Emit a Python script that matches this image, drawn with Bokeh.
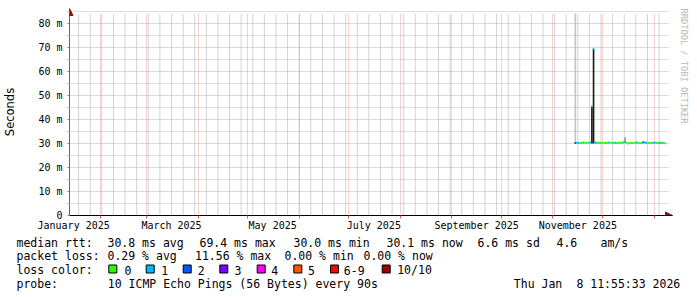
import pandas as pd
from bokeh.plotting import figure
from bokeh.models import Range1d, FixedTicker, Arrow, NormalHead, Title, Plot, Grid
from bokeh.layouts import column
from bokeh.embed import file_html
from bokeh.resources import INLINE
from bokeh.core.properties import value

# ---------------- data ----------------
graph_end = "2026-01-08 11:55:33"
graph_span_days = 360
y_top = 84.17

data_start = "2025-11-14"   # first daily sample
median_rtt = [30.2, 30.3, 30.2, 30.3, 30.2, 30.4, 30.3, 30.2, 30.3, 30.4,
              45.5, 69.4, 30.4, 30.3, 30.2, 30.3, 30.2, 30.3, 30.2, 30.3,
              30.4, 30.2, 30.3, 30.2, 30.3, 30.2, 30.3, 30.2, 30.3, 30.4,
              30.6, 30.3, 30.0, 30.2, 30.3, 30.2, 30.3, 30.4, 30.2, 30.3,
              30.2, 30.5, 30.4, 30.3, 30.2, 30.3, 30.2, 30.3, 30.4, 30.2,
              30.3, 30.2, 30.3, 30.2, 30.1]
loss_count = [2, 1, 1, 0, 0, 1, 0, 0, 0, 1,
              0, 1, 1, 1, 0, 0, 0, 0, 0, 0,
              1, 0, 0, 0, 1, 0, 0, 0, 0, 1,
              1, 0, 0, 0, 0, 0, 0, 1, 0, 0,
              0, 2, 1, 1, 0, 0, 0, 1, 1, 0,
              0, 1, 1, 0, 0]

smoke_light_day = ["2025-11-14"]
smoke_light_lo = [30.0]
smoke_light_hi = [120.0]
smoke_mid_day = ["2025-12-14"]
smoke_mid_lo = [30.2]
smoke_mid_hi = [32.6]
smoke_dark_day = ["2025-11-24", "2025-11-25"]
smoke_dark_lo = [30.0, 30.0]
smoke_dark_hi = [45.5, 69.4]

x_label_months = ["2025-01-01", "2025-03-01", "2025-05-01", "2025-07-01", "2025-09-01", "2025-11-01"]
x_tick_labels = ["January 2025", "March 2025", "May 2025", "July 2025", "September 2025", "November 2025"]
y_ticks = [0, 10, 20, 30, 40, 50, 60, 70, 80]
y_tick_labels = ["0", "10 m", "20 m", "30 m", "40 m", "50 m", "60 m", "70 m", "80 m"]

loss_bins = ["0", "1", "2", "3", "4", "5", "6-9", "10/10"]

rtt_avg, rtt_max, rtt_min, rtt_now, rtt_sd, rtt_ams = 30.8, 69.4, 30.0, 30.1, 6.6, 4.6
loss_avg, loss_max, loss_min, loss_now = 0.29, 11.56, 0.00, 0.00
probe_text = "10 ICMP Echo Pings (56 Bytes) every 90s"
stamp_day = "Thu Jan"
stamp_rest = "8 11:55:33 2026"

# ---------------- style ----------------
loss_colors = ["#26ff00", "#00b8ff", "#0059ff", "#7e00ff", "#ff00ff", "#ff5500", "#ff0000", "#a10000"]
MONO = "DejaVu Sans Mono"
MGRID = "#eaa0a0"
GRID = "#bcbcbc"
WGRID = "#a6a6a6"
ARROW = "#8b1010"

FA = {"frame_align": False} if "frame_align" in Plot.properties() else {}
HAS_CB = "cross_bounds" in Grid.properties()


def ms(t):
    return (pd.Timestamp(t) - pd.Timestamp("1970-01-01")) / pd.Timedelta(milliseconds=1)


DAY = 86400000.0
t_end = pd.Timestamp(graph_end)
t_start = t_end - pd.Timedelta(days=graph_span_days)
x0, x1 = ms(t_start), ms(t_end)
PLOT_W = 600
px_per_ms = PLOT_W / (x1 - x0)

FRAME_LEFT = 67
ARROW_X = 6          # px the x axis arrow reaches beyond the data area
FRAME_TOP = 8        # arrow tip of the y axis
DATA_H = 202         # px from y=0 to y_top
ARROW_Y = 5
TOP_H = 236
px_per_m = DATA_H / y_top

x_hi = x1 + ARROW_X / px_per_ms
y_hi = y_top + ARROW_Y / px_per_m

p = figure(width=697, height=TOP_H, x_range=Range1d(x0, x_hi), y_range=Range1d(0, y_hi),
           min_border_left=FRAME_LEFT, min_border_right=697 - FRAME_LEFT - PLOT_W - ARROW_X,
           min_border_top=FRAME_TOP,
           min_border_bottom=TOP_H - FRAME_TOP - DATA_H - ARROW_Y,
           output_backend="svg", toolbar_location=None, **FA)
p.outline_line_color = None
p.background_fill_color = "white"
p.border_fill_color = "white"

# grids
month_starts = [ms(d) for d in pd.date_range(t_start.normalize(), t_end, freq="MS")]
sundays = [ms(d) for d in pd.date_range(t_start.normalize(), t_end, freq="W-SUN")]
y_minor = [v + 5 for v in y_ticks]

# weekly minor grid, drawn as plain vertical rules under the data
p.segment(x0=sundays, y0=[0] * len(sundays), x1=sundays, y1=[y_top] * len(sundays),
          line_color=WGRID, line_width=1, line_dash="1 1", level="underlay")

p.xgrid.ticker = FixedTicker(ticks=month_starts)
p.xgrid.grid_line_color = MGRID
p.xgrid.grid_line_dash = "1 1"
p.ygrid.ticker = FixedTicker(ticks=y_ticks, minor_ticks=y_minor)
p.ygrid.grid_line_color = MGRID
p.ygrid.grid_line_dash = "1 1"
p.ygrid.minor_grid_line_color = GRID
p.ygrid.minor_grid_line_dash = "1 1"
if HAS_CB:
    p.xgrid.cross_bounds = (0, y_top)
    p.ygrid.cross_bounds = (x0, x1 + 2 / px_per_ms)

# x axis
label_pos = [ms(pd.Timestamp(m) + pd.Timedelta(days=15)) for m in x_label_months]
p.xaxis.ticker = FixedTicker(ticks=label_pos, minor_ticks=month_starts)
p.xaxis.major_label_overrides = {k: v for k, v in zip(label_pos, x_tick_labels)}
p.xaxis.major_tick_out = 0
p.xaxis.major_tick_in = 0
p.xaxis.minor_tick_out = 3
p.xaxis.minor_tick_in = 0
p.xaxis.minor_tick_line_color = "#e06060"
p.xaxis.axis_line_color = "black"
p.xaxis.major_label_text_font = MONO
p.xaxis.major_label_text_font_size = "10px"
p.xaxis.major_label_text_color = "black"
p.xaxis.major_label_standoff = 1

# y axis
p.yaxis.ticker = FixedTicker(ticks=y_ticks, minor_ticks=y_minor)
p.yaxis.major_label_overrides = {k: v for k, v in zip(y_ticks, y_tick_labels)}
p.yaxis.major_tick_out = 2
p.yaxis.major_tick_in = 0
p.yaxis.major_tick_line_color = "#e06060"
p.yaxis.minor_tick_out = 2
p.yaxis.minor_tick_in = 0
p.yaxis.minor_tick_line_color = GRID
p.yaxis.axis_line_color = "#666666"
p.yaxis.major_label_text_font = MONO
p.yaxis.major_label_text_font_size = "10px"
p.yaxis.major_label_text_color = "black"
p.yaxis.major_label_standoff = 5
p.yaxis.axis_label = "Seconds"
p.yaxis.axis_label_text_font = "DejaVu Sans"
p.yaxis.axis_label_text_font_style = "normal"
p.yaxis.axis_label_text_font_size = "11.5px"
p.yaxis.axis_label_text_color = "black"
p.yaxis.axis_label_standoff = 18

# smoke
for days, lo, hi, col in [(smoke_light_day, smoke_light_lo, smoke_light_hi, "#c4c4c4"),
                          (smoke_mid_day, smoke_mid_lo, smoke_mid_hi, "#9a9a9a"),
                          (smoke_dark_day, smoke_dark_lo, smoke_dark_hi, "#1c1c1c")]:
    left = [ms(d) for d in days]
    p.quad(left=left, right=[l + DAY for l in left], bottom=lo,
           top=[min(h, y_top) for h in hi], fill_color=col, line_color=None)


# median line coloured by loss
def loss_bin(n):
    if n <= 5:
        return n
    if n < 10:
        return 6
    return 7


d0 = ms(data_start)
mx0 = [d0 + i * DAY for i in range(len(median_rtt))]
mx1 = [x + DAY for x in mx0]
mcol = [loss_colors[loss_bin(n)] for n in loss_count]
p.segment(x0=mx0, y0=median_rtt, x1=mx1, y1=median_rtt, line_color=mcol,
          line_width=2, line_cap="butt")

# axis arrows
p.add_layout(Arrow(end=NormalHead(size=7, fill_color=ARROW, line_color=ARROW),
                   x_start=x1, y_start=0, x_end=x_hi, y_end=0,
                   line_color="black", line_width=1))
p.add_layout(Arrow(end=NormalHead(size=7, fill_color=ARROW, line_color=ARROW),
                   x_start=x0, y_start=y_top, x_end=x0, y_end=y_hi,
                   line_color="#666666", line_width=1))

# watermark
p.add_layout(Title(text="RRDTOOL / TOBI OETIKER", align="left", text_font=MONO,
                   text_font_size="8.7px", text_color="#b8b8b8", text_font_style="normal",
                   standoff=13), "right")

# ---------------- legend figure ----------------
LEG_H = 297 - TOP_H
leg = figure(width=697, height=LEG_H, x_range=Range1d(0, 697), y_range=Range1d(297, TOP_H),
             min_border=0, min_border_left=0, min_border_right=0, min_border_top=0,
             min_border_bottom=0, x_axis_location=None, y_axis_location=None,
             output_backend="svg", toolbar_location=None, **FA)
leg.outline_line_color = None
leg.xgrid.visible = False
leg.ygrid.visible = False

rows = [242.0, 255.9, 269.8, 283.7]
tx, ty, tt = [], [], []


def put(x, row, s):
    tx.append(x)
    ty.append(rows[row])
    tt.append(s)


put(16, 0, "median rtt:")
put(107, 0, f"{rtt_avg:.1f} ms avg")
put(199, 0, f"{rtt_max:.1f} ms max")
put(293, 0, f"{rtt_min:.1f} ms min")
put(386, 0, f"{rtt_now:.1f} ms now")
put(477, 0, f"{rtt_sd:.1f} ms sd")
put(556, 0, f"{rtt_ams:.1f}")
put(600, 0, "am/s")
put(16, 1, "packet loss:")
put(107, 1, f"{loss_avg:.2f} % avg")
put(194.5, 1, f"{loss_max:.2f} % max")
put(284, 1, f"{loss_min:.2f} % min")
put(363, 1, f"{loss_now:.2f} % now")
put(16, 2, "loss color:")
sq_left = [108.3, 145.7, 182.7, 219.3, 256.7, 293.3, 330.0, 381.7]
lab_left = [124.0, 160.7, 197.3, 234.0, 270.7, 307.5, 343.3, 396.7]
for xl, s in zip(lab_left, loss_bins):
    put(xl, 2, s)
put(16, 3, "probe:")
put(107.3, 3, probe_text)
put(513.3, 3, stamp_day)
put(575.9, 3, stamp_rest)

leg.text(x=tx, y=ty, text=tt, text_font=value(MONO), text_font_size="11.5px",
         text_baseline="alphabetic", text_align="left", text_color="black")
leg.rect(x=[s + 4 for s in sq_left], y=[268.5] * len(sq_left), width=8, height=8,
         fill_color=loss_colors, line_color="black", line_width=1)

if FA:
    layout = column(p, leg, spacing=0)
else:
    layout = column(p, column(leg), spacing=0)
open("out.html", "w").write(file_html(layout, INLINE))
